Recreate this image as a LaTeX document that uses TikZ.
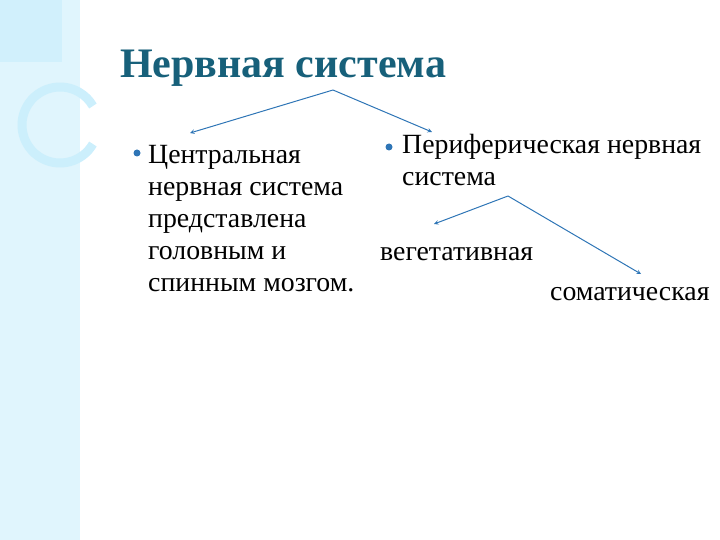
\documentclass[tikz,border=0pt]{standalone}
\usepackage{fontspec}
\setmainfont{Liberation Serif}
\definecolor{ttl}{RGB}{23,96,122}
\definecolor{arrc}{RGB}{46,117,182}
\begin{document}
\begin{tikzpicture}[x=1pt,y=-1pt,
  body/.style={anchor=west,inner sep=0pt,font=\fontsize{27.8}{32}\selectfont,align=left},
  arr/.style={draw=arrc,line width=1pt,-stealth},
  bul/.style={circle,fill=arrc,inner sep=0pt,minimum size=7pt}]
\useasboundingbox (0,0) rectangle (720,540);
\fill[cyan!12] (0,0) rectangle (80,540);
\fill[cyan!18] (0,0) rectangle (62,62);
\draw[cyan!20,line width=9pt] (60,125) ++(30:38) arc (30:330:38);
\node[anchor=west,inner sep=0pt,text=ttl,font=\fontsize{42}{46}\selectfont\bfseries] (title) at (120,68) {Нервная система};
\coordinate (apex) at (333,90);
\coordinate (apex2) at (508,196);
\node[bul] (b1) at (137,153) {};
\node[body] (cns) at (148,219) {Центральная\\нервная система\\представлена\\головным и\\спинным мозгом.};
\node[bul] (b2) at (389,147) {};
\node[body] (pns) at (402,160) {Периферическая нервная\\система};
\node[body] (veg) at (380,254) {вегетативная};
\node[body] (som) at (550,294) {соматическая};
\coordinate (t1) at (190,133);
\coordinate (t2) at (432,132);
\coordinate (t3) at (434,224);
\coordinate (t4) at (641,274);
\draw[arr] (apex) -- (t1);
\draw[arr] (apex) -- (t2);
\draw[arr] (apex2) -- (t3);
\draw[arr] (apex2) -- (t4);
\end{tikzpicture}
\end{document}
